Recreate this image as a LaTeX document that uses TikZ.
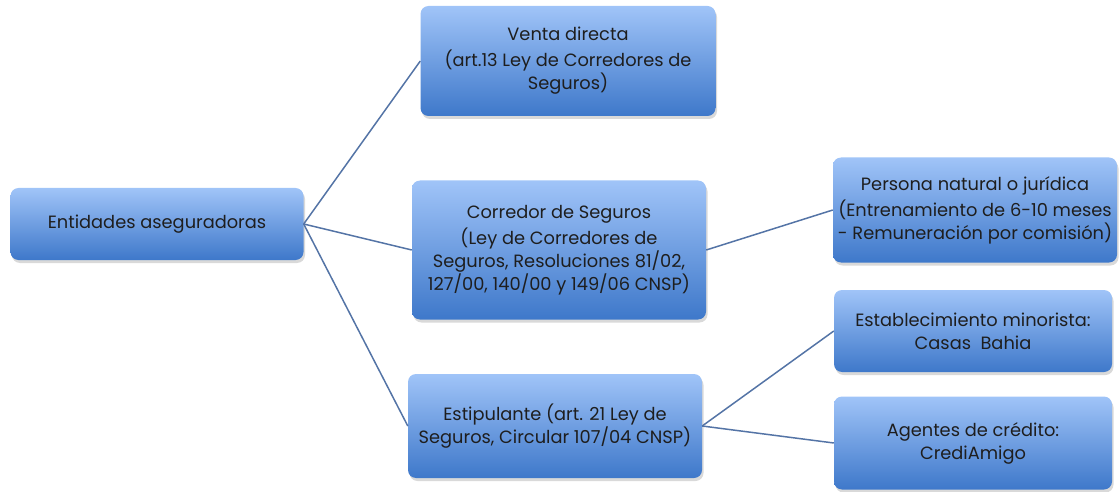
\documentclass[tikz,border=0pt]{standalone}
\usepackage{fontspec}
\setmainfont{Poppins}
\usetikzlibrary{positioning,shadows}
\definecolor{boxtop}{RGB}{160,196,248}
\definecolor{boxbot}{RGB}{62,120,202}
\definecolor{linkblue}{RGB}{84,116,166}
\definecolor{boxtext}{RGB}{30,30,30}

\begin{document}
\begin{tikzpicture}[
  x=1pt, y=-1pt,
  box/.style={rounded corners=8pt, top color=boxtop, bottom color=boxbot, align=center,
    font=\fontsize{17.8}{23}\selectfont, text=boxtext, inner sep=1pt,
    drop shadow={opacity=0.3, shadow xshift=1.5pt, shadow yshift=-3pt}},
  link/.style={draw=linkblue, line width=1.5pt}
]
\useasboundingbox (0,0) rectangle (1120,492);
\node[box, minimum width=293pt, minimum height=72pt] (root) at (157,224) {Entidades aseguradoras};
\node[box, minimum width=295pt, minimum height=110pt] (venta) at (568,61) {Venta directa\\[3pt] (art.13 Ley de Corredores de\\Seguros)};
\node[box, minimum width=294pt, minimum height=139pt] (corredor) at (559,250) {Corredor de Seguros\\[3pt](Ley de Corredores de\\Seguros, Resoluciones 81/02,\\127/00, 140/00 y 149/06 CNSP)};
\node[box, minimum width=294pt, minimum height=104pt] (estip) at (555,426) {Estipulante (art. 21 Ley de\\Seguros, Circular 107/04 CNSP)};
\node[box, minimum width=284pt, minimum height=105pt] (persona) at (975,210) {Persona natural o jurídica\\[3pt](Entrenamiento de 6-10 meses\\- Remuneración por comisión)};
\node[box, minimum width=278pt, minimum height=82pt] (minorista) at (973,331) {Establecimiento minorista:\\Casas~ Bahia};
\node[box, minimum width=278pt, minimum height=93pt] (agentes) at (973,443) {Agentes de crédito:\\CrediAmigo};
% conectores
\draw[link] (root.east) -- (venta.west);
\draw[link] (root.east) -- (corredor.west);
\draw[link] (root.east) -- (estip.west);
\draw[link] (corredor.east) -- (persona.west);
\draw[link] (estip.east) -- (minorista.west);
\draw[link] (estip.east) -- (agentes.west);
\end{tikzpicture}
\end{document}
